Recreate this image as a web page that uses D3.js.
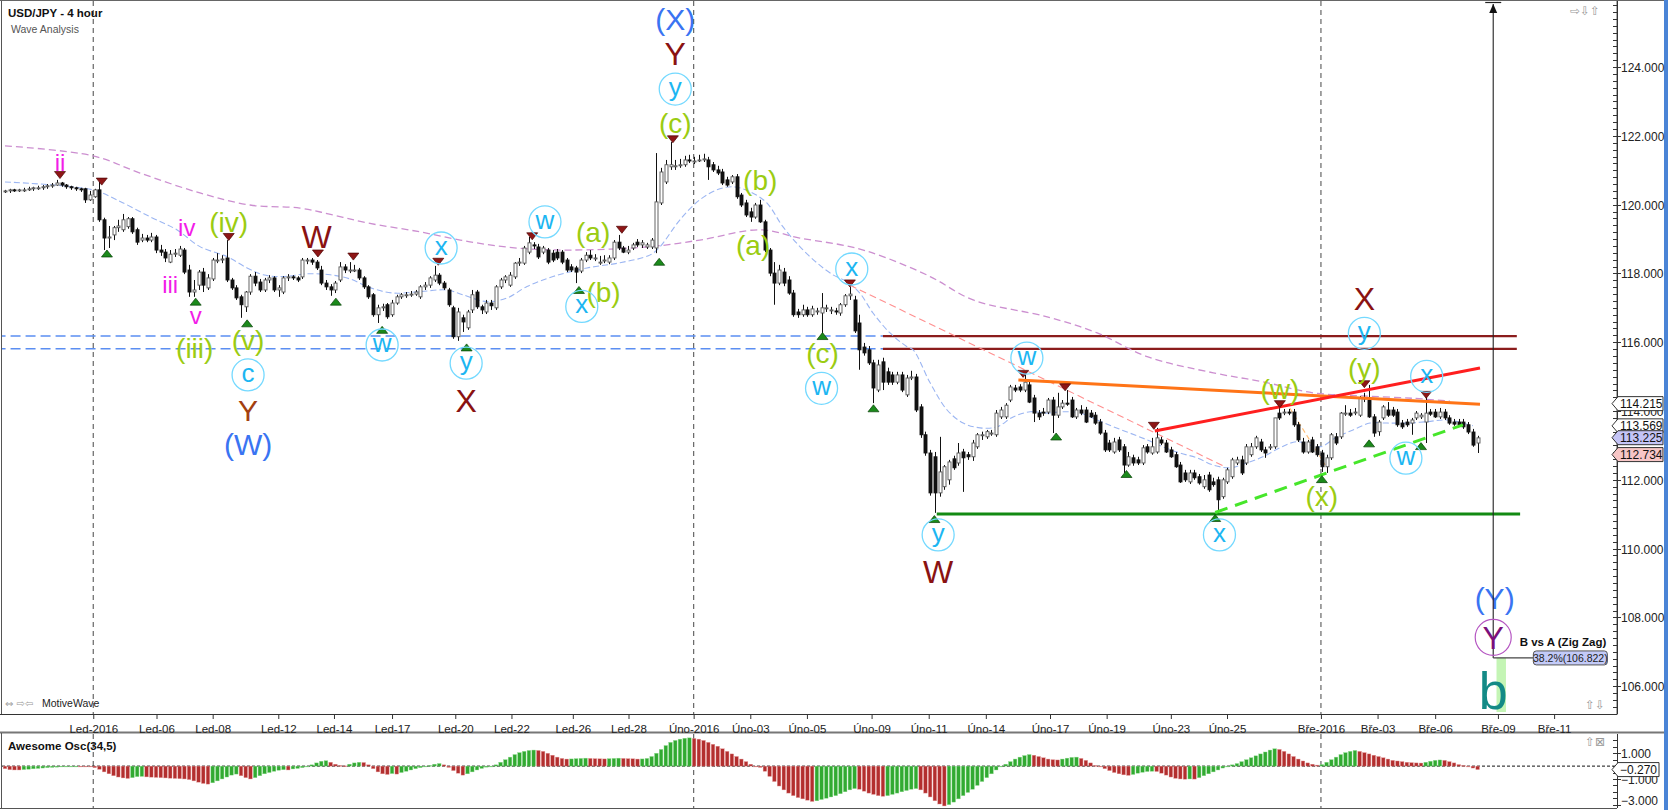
<!DOCTYPE html>
<html><head><meta charset="utf-8"><title>USD/JPY - 4 hour</title>
<script src="https://cdn.jsdelivr.net/npm/d3@7/dist/d3.min.js"></script>
<style>html,body{margin:0;padding:0;background:#fff;overflow:hidden}svg{display:block}text{font-family:"Liberation Sans",Arial,sans-serif}</style>
</head><body>
<svg id="chart" width="1668" height="810"></svg>
<script>
// ---------- DATA ----------
// 4-hour candles [open, high, low, close]
const candles = [
[120.40,120.43,120.34,120.40],[120.40,120.46,120.34,120.43],[120.43,120.46,120.37,120.40],[120.40,120.46,120.37,120.43],[120.43,120.49,120.37,120.43],
[120.43,120.52,120.40,120.46],[120.46,120.52,120.40,120.49],[120.49,120.55,120.43,120.49],[120.49,120.57,120.43,120.52],[120.52,120.60,120.46,120.55],
[120.55,120.63,120.49,120.57],[120.57,120.72,120.55,120.63],[120.63,120.66,120.52,120.57],[120.57,120.60,120.46,120.52],[120.52,120.55,120.43,120.49],
[120.49,120.52,120.40,120.46],[120.46,120.49,120.37,120.43],[120.46,120.49,120.05,120.14],[120.14,120.40,120.11,120.28],[120.23,120.46,120.20,120.43],
[120.43,120.66,119.50,119.56],[119.56,119.62,118.68,119.03],[119.03,119.38,118.74,119.06],[119.12,119.38,118.97,119.33],[119.33,119.56,119.21,119.38],
[119.27,119.73,119.21,119.56],[119.36,119.64,119.30,119.59],[119.59,119.64,119.15,119.21],[119.27,119.33,118.83,118.91],[118.97,119.15,118.91,119.03],
[119.03,119.12,118.91,118.97],[118.97,119.18,118.91,119.06],[119.06,119.12,118.59,118.68],[118.68,118.83,118.51,118.62],[118.62,118.71,118.33,118.45],
[118.33,118.68,118.30,118.56],[118.56,118.71,118.48,118.59],[118.53,118.80,118.48,118.71],[118.68,118.74,117.98,118.04],[118.10,118.25,117.32,117.46],
[117.46,117.81,117.32,117.52],[117.66,118.10,117.52,118.04],[118.04,118.16,117.46,117.66],[117.58,117.98,117.52,117.87],[117.84,118.45,117.78,118.39],
[118.39,118.59,118.30,118.39],[118.39,118.53,118.30,118.42],[118.45,118.97,117.75,117.81],[117.81,117.87,117.52,117.58],[117.58,117.66,117.23,117.29],
[117.32,117.38,116.71,117.09],[117.03,117.49,116.88,117.46],[117.46,117.98,117.38,117.92],[117.92,118.04,117.63,117.72],[117.75,117.84,117.46,117.52],
[117.52,117.87,117.46,117.81],[117.81,117.95,117.72,117.87],[117.87,117.92,117.46,117.52],[117.52,117.66,117.32,117.58],[117.46,117.92,117.40,117.87],
[117.87,117.98,117.78,117.90],[117.90,117.95,117.81,117.87],[117.87,117.92,117.75,117.81],[117.90,118.45,117.84,118.39],[118.39,118.45,118.27,118.39],
[118.39,118.45,118.25,118.33],[118.33,118.39,118.10,118.16],[118.10,118.22,117.66,117.72],[117.72,117.81,117.52,117.61],[117.61,117.69,117.35,117.52],
[117.52,117.78,117.43,117.72],[117.81,118.33,117.75,118.19],[118.19,118.27,118.01,118.10],[118.10,118.33,118.01,118.10],[118.10,118.25,118.04,118.10],
[118.10,118.16,117.81,117.87],[117.87,117.92,117.55,117.61],[117.61,117.66,117.26,117.32],[117.38,117.43,116.74,116.80],[116.80,117.09,116.56,117.00],
[117.00,117.12,116.91,117.03],[117.09,117.14,116.68,116.74],[116.80,117.23,116.74,117.14],[117.14,117.38,117.09,117.32],[117.32,117.43,117.26,117.38],
[117.38,117.46,117.29,117.38],[117.38,117.49,117.32,117.40],[117.40,117.52,117.35,117.46],[117.32,117.66,117.26,117.61],[117.61,117.75,117.52,117.66],
[117.66,117.92,117.58,117.87],[117.81,118.22,117.75,117.95],[117.95,118.01,117.66,117.72],[117.72,117.78,117.52,117.58],[117.52,117.58,117.03,117.09],
[117.00,117.06,116.10,116.16],[116.16,117.00,116.04,116.88],[116.71,116.80,116.30,116.59],[116.42,116.94,116.36,116.88],[116.94,117.52,116.85,117.38],
[117.46,117.52,116.97,117.03],[117.03,117.09,116.82,116.94],[116.88,117.23,116.82,117.14],[117.14,117.23,116.94,117.06],[117.00,117.66,116.94,117.61],
[117.61,117.87,117.55,117.81],[117.81,117.95,117.72,117.90],[117.66,118.04,117.61,117.95],[117.90,118.33,117.84,118.30],[118.30,118.45,118.22,118.33],
[118.30,118.80,118.25,118.74],[118.62,119.06,118.56,118.89],[118.83,118.91,118.71,118.80],[118.77,118.86,118.42,118.48],[118.62,118.80,118.56,118.74],
[118.68,118.74,118.27,118.33],[118.59,118.68,118.33,118.39],[118.62,118.71,118.39,118.45],[118.62,118.68,118.27,118.33],[118.39,118.45,118.04,118.10],
[118.19,118.27,118.04,118.10],[118.16,118.22,117.72,118.04],[118.07,118.45,118.01,118.39],[118.39,118.62,118.33,118.53],[118.53,118.68,118.39,118.45],
[118.45,118.56,118.36,118.45],[118.33,118.51,118.25,118.33],[118.39,118.53,118.30,118.39],[118.33,118.53,118.27,118.45],[118.45,118.97,118.39,118.91],
[118.91,119.12,118.68,118.74],[118.74,118.80,118.59,118.62],[118.62,118.80,118.56,118.68],[118.74,118.89,118.68,118.83],[118.91,119.00,118.77,118.83],
[118.83,118.97,118.74,118.89],[118.77,118.89,118.71,118.83],[118.77,119.03,118.71,118.97],[118.74,121.50,118.59,120.08],[120.05,121.07,119.99,120.95],
[120.66,121.30,120.60,121.16],[121.10,121.82,121.01,121.16],[121.10,121.30,121.01,121.13],[121.13,121.33,121.07,121.16],[121.16,121.42,121.10,121.30],
[121.30,121.45,121.21,121.27],[121.24,121.39,121.18,121.27],[121.30,121.45,121.24,121.30],[121.30,121.48,121.24,121.33],[121.30,121.39,120.72,121.10],
[121.16,121.24,120.95,121.01],[121.01,121.13,120.86,120.92],[120.95,121.04,120.57,120.63],[120.72,120.81,120.52,120.57],[120.66,120.86,120.60,120.81],
[120.81,120.89,120.17,120.23],[120.28,120.34,119.93,119.99],[120.05,120.14,119.64,119.70],[119.79,119.91,119.50,119.64],[119.64,120.05,119.59,119.99],
[119.99,120.14,119.47,119.50],[119.50,119.56,118.62,118.68],[118.68,118.74,117.92,118.01],[118.01,118.33,117.09,117.72],[117.72,118.25,117.66,118.10],
[118.04,118.16,117.63,117.72],[117.81,117.92,117.38,117.43],[117.43,117.52,116.74,116.80],[116.88,116.97,116.71,116.80],[116.80,117.09,116.74,116.94],
[116.94,117.03,116.74,116.80],[116.80,117.06,116.74,116.97],[116.91,117.00,116.80,116.91],[116.85,117.43,116.22,117.00],[117.00,117.09,116.88,117.00],
[116.94,117.03,116.82,116.94],[116.91,117.00,116.80,116.88],[116.85,117.14,116.77,117.09],[117.09,117.40,117.03,117.35],[117.35,117.61,117.23,117.40],
[117.23,117.35,116.27,116.33],[116.56,116.80,115.20,115.78],[115.86,115.98,115.61,115.69],[115.78,115.89,115.34,115.40],[115.40,115.49,114.23,114.67],
[114.61,115.49,114.55,115.34],[115.43,115.55,114.61,114.84],[115.14,115.26,114.76,114.84],[115.05,115.14,114.76,114.84],[114.84,115.14,114.78,115.05],
[115.05,115.14,114.55,114.61],[114.47,115.05,114.41,114.96],[114.96,115.17,114.90,114.99],[114.99,115.08,113.97,114.03],[114.12,114.20,113.22,113.31],
[113.31,113.40,112.70,112.78],[112.78,112.87,111.54,111.62],[112.67,112.81,111.04,111.62],[111.62,113.25,111.51,112.23],[111.80,112.43,111.71,112.38],
[112.00,112.58,111.86,112.52],[112.61,112.70,112.29,112.35],[112.49,113.07,112.41,112.78],[112.81,112.90,111.65,112.64],[112.73,112.81,112.58,112.67],
[112.67,113.16,112.55,113.07],[112.96,113.36,112.90,113.31],[113.31,113.40,113.16,113.31],[113.25,113.45,113.19,113.40],[113.36,113.45,113.28,113.36],
[113.31,114.03,113.25,113.94],[113.83,114.12,113.77,114.03],[113.83,114.23,113.77,114.17],[114.32,114.76,114.26,114.70],[114.67,114.76,114.55,114.61],
[114.70,114.78,114.55,114.61],[114.61,115.05,114.55,114.84],[114.76,114.90,114.23,114.26],[114.38,114.47,113.68,113.94],[113.94,114.03,113.74,113.83],
[113.97,114.09,113.86,113.94],[113.97,114.38,113.91,114.32],[114.32,114.41,113.36,113.88],[113.88,114.53,113.80,114.12],[114.12,114.32,114.06,114.23],
[114.23,114.61,114.15,114.20],[114.32,114.41,113.80,113.83],[113.83,114.09,113.77,114.03],[114.03,114.17,113.88,113.94],[114.03,114.12,113.65,113.68],
[113.94,114.03,113.80,113.83],[113.88,113.97,113.60,113.65],[113.68,113.77,113.31,113.36],[113.36,113.45,112.81,112.87],[113.07,113.16,112.81,112.87],
[112.81,113.22,112.76,113.10],[113.16,113.25,112.81,112.87],[112.96,113.04,112.20,112.43],[112.43,112.81,112.38,112.67],[112.64,112.73,112.41,112.49],
[112.58,112.67,112.43,112.49],[112.49,113.01,112.43,112.93],[112.96,113.04,112.76,112.81],[112.78,113.22,112.73,112.96],[112.81,113.51,112.76,113.22],
[113.16,113.25,113.01,113.07],[113.07,113.16,112.78,112.81],[112.87,112.96,112.64,112.67],[112.73,112.81,112.35,112.38],[112.43,112.52,111.91,111.94],
[112.20,112.29,111.94,112.00],[111.94,112.29,111.88,112.20],[112.20,112.29,112.00,112.06],[112.09,112.17,111.86,111.91],[111.80,112.14,111.74,112.00],
[112.14,112.23,111.65,111.71],[111.94,112.06,111.80,111.86],[112.00,112.09,111.04,111.42],[111.51,112.06,111.45,112.00],[111.94,112.35,111.88,112.29],
[112.09,112.64,112.03,112.58],[112.49,112.67,112.43,112.58],[112.58,112.70,112.14,112.20],[112.49,113.04,112.43,112.96],[112.73,113.07,112.67,112.96],
[112.96,113.28,112.90,113.22],[113.10,113.19,112.81,112.87],[112.87,112.96,112.64,112.78],[112.93,113.04,112.87,112.96],[112.96,113.80,112.90,113.80],
[113.94,114.17,113.74,113.80],[113.97,114.06,113.88,113.97],[113.97,114.06,113.88,113.94],[113.97,114.06,113.54,113.60],[113.60,113.68,113.10,113.16],
[113.10,113.22,112.76,112.81],[112.81,113.16,112.76,113.10],[113.16,113.25,112.78,112.81],[112.96,113.04,112.67,112.73],[112.78,112.87,112.23,112.38],
[112.38,112.73,112.20,112.64],[112.64,113.36,112.58,113.31],[113.25,113.36,113.01,113.07],[113.25,113.97,113.19,113.94],[113.94,114.17,113.86,113.94],
[113.94,114.06,113.83,113.88],[113.97,114.09,113.88,113.97],[113.88,114.44,113.83,114.38],[114.38,114.53,114.26,114.38],[114.32,114.76,113.80,113.83],
[113.83,113.91,113.25,113.36],[113.40,113.74,113.28,113.68],[113.80,114.17,113.74,114.12],[114.03,114.26,113.83,113.88],[114.03,114.12,113.83,113.88],
[113.97,114.06,113.54,113.60],[113.65,113.74,113.48,113.54],[113.68,113.77,113.54,113.60],[113.65,113.80,113.31,113.74],[113.80,114.00,113.74,113.94],
[113.83,113.94,113.77,113.88],[113.68,114.47,113.07,113.94],[113.97,114.06,113.86,113.91],[113.97,114.06,113.80,113.83],[113.83,114.09,113.77,113.97],
[113.97,114.06,113.74,113.80],[113.80,113.88,113.60,113.65],[113.68,113.77,113.57,113.62],[113.68,113.77,113.54,113.60],[113.68,113.77,113.48,113.54],
[113.60,113.68,113.33,113.39],[113.39,113.48,112.96,113.01],[113.07,113.28,112.78,113.22]
];

// Awesome Oscillator (34,5), one value per candle
const aoValues = [
-0.2,-0.28,-0.3,-0.3,-0.27,-0.24,-0.21,-0.18,-0.15,-0.12,
-0.1,-0.08,-0.06,-0.05,-0.04,-0.03,-0.03,-0.04,-0.05,-0.12,
-0.25,-0.45,-0.6,-0.75,-0.85,-0.92,-0.96,-0.9,-0.82,-0.8,
-0.84,-0.86,-0.88,-0.9,-0.92,-0.94,-0.96,-0.98,-1.0,-1.05,
-1.15,-1.25,-1.35,-1.4,-1.3,-1.15,-1.0,-0.85,-0.7,-0.62,
-0.75,-0.9,-1.0,-0.9,-0.75,-0.6,-0.5,-0.4,-0.32,-0.28,
-0.3,-0.22,-0.18,-0.12,-0.05,0.1,0.25,0.38,0.42,0.3,
0.15,0.05,0.02,0.15,0.25,0.3,0.28,0.1,-0.2,-0.45,
-0.6,-0.65,-0.58,-0.62,-0.5,-0.4,-0.3,-0.2,-0.12,-0.05,
0.05,0.15,0.2,0.1,-0.1,-0.35,-0.55,-0.7,-0.6,-0.45,
-0.3,-0.18,-0.08,0.0,0.1,0.3,0.5,0.7,0.9,1.05,
1.15,1.22,1.25,1.22,1.15,1.0,0.85,0.7,0.6,0.55,
0.56,0.58,0.6,0.62,0.6,0.58,0.57,0.56,0.58,0.6,
0.62,0.6,0.58,0.57,0.55,0.56,0.6,0.75,1.0,1.3,
1.6,1.85,2.0,2.1,2.17,2.2,2.15,2.1,2.0,1.85,
1.7,1.55,1.35,1.15,0.95,0.75,0.55,0.35,0.15,0.0,
-0.1,-0.4,-0.8,-1.2,-1.55,-1.85,-2.1,-2.3,-2.45,-2.55,
-2.65,-2.75,-2.7,-2.6,-2.5,-2.4,-2.3,-2.15,-2.0,-1.85,
-1.75,-1.8,-1.95,-2.1,-2.2,-2.3,-2.35,-2.3,-2.2,-2.1,
-2.0,-1.9,-1.8,-1.75,-1.85,-2.1,-2.4,-2.7,-2.95,-3.1,
-3.0,-2.8,-2.55,-2.3,-2.05,-1.8,-1.5,-1.2,-0.9,-0.6,
-0.3,-0.05,0.15,0.35,0.55,0.7,0.82,0.9,0.85,0.75,
0.65,0.55,0.5,0.48,0.55,0.62,0.68,0.7,0.6,0.45,
0.25,0.05,-0.05,-0.2,-0.35,-0.5,-0.6,-0.68,-0.72,-0.65,
-0.55,-0.48,-0.42,-0.4,-0.42,-0.55,-0.7,-0.85,-0.95,-1.0,
-1.02,-1.0,-1.01,-0.9,-0.75,-0.6,-0.45,-0.3,-0.15,0.0,
0.1,0.2,0.35,0.5,0.65,0.8,0.95,1.1,1.25,1.35,
1.3,1.15,0.95,0.75,0.55,0.4,0.25,0.15,0.08,0.12,
0.3,0.5,0.7,0.9,1.05,1.15,1.22,1.15,1.05,0.95,
0.85,0.75,0.65,0.55,0.45,0.4,0.35,0.3,0.27,0.25,
0.24,0.3,0.38,0.45,0.48,0.45,0.35,0.25,0.12,0.05,
-0.05,-0.15,-0.27
];

// moving averages traced as [candle index, price]
const fastMA = [[0,120.66],[18.6,120.43],[23.7,120.14],[30.7,119.65],[36.4,119.27],[41.3,118.78],[47,118.49],[51.3,118.16],[54.7,117.96],[58.9,117.91],[64,117.99],[68.9,117.96],[73.1,117.84],[77.5,117.58],[82.2,117.43],[87.9,117.47],[93.6,117.52],[97,117.38],[102.1,117.18],[106.4,117.29],[110.6,117.62],[116.1,117.91],[123.3,118.16],[130.3,118.31],[136.7,118.54],[138.8,118.78],[143,119.56],[147.2,120.14],[150.8,120.43],[154.2,120.52],[157.8,120.38],[161.4,120.05],[164.8,119.36],[168.4,118.78],[172,118.31],[175.4,117.96],[178.4,117.76],[181.1,117.43],[183.9,116.85],[187.5,116.27],[191.1,115.87],[192.4,115.78],[196,114.82],[199.6,114.03],[203,113.65],[206.6,113.51],[210.2,113.54],[213.6,113.83],[217.2,113.98],[220.8,113.94],[224.2,113.98],[227.8,113.94],[231.4,113.74],[234.7,113.55],[238.3,113.36],[242,113.16],[245.3,112.96],[248.9,112.78],[252.5,112.64],[256,112.43],[259.5,112.35],[263.1,112.49],[266.5,112.67],[270.1,112.93],[273.7,113.11],[278.6,112.96],[282.2,113.25],[285.6,113.45],[289.2,113.65],[292.8,113.65],[297.1,113.65],[301.3,113.69],[305.5,113.74],[311,113.57]];
const slowMA = [[0,121.71],[18.6,121.42],[28.6,120.92],[41.3,120.34],[51.9,119.99],[62.5,119.90],[69.5,119.70],[76.7,119.47],[87.9,119.21],[98.5,118.92],[109.1,118.73],[119.7,118.68],[136.7,118.78],[147.2,118.97],[160,119.27],[168.4,119.03],[179,118.78],[186,118.49],[196,117.91],[205.1,117.23],[220.8,116.74],[231.4,116.27],[242,115.58],[256,115.11],[266.5,114.85],[277.1,114.53],[287.7,114.44],[298.3,114.37],[306.1,114.29]];

// time axis
const tickIdx = [18.7,32.1,44.0,57.9,69.7,82.0,95.4,107.3,120.3,132.1,145.9,157.9,169.9,183.6,195.7,207.8,221.4,233.4,247.0,258.9,278.8,290.8,303.0,316.3,328.2];
const tickLabels = ["Led-2016","Led-06","Led-08","Led-12","Led-14","Led-17","Led-20","Led-22","Led-26","Led-28","Úno-2016","Úno-03","Úno-05","Úno-09","Úno-11","Úno-14","Úno-17","Úno-19","Úno-23","Úno-25","Bře-2016","Bře-03","Bře-06","Bře-09","Bře-11"];
const priceTicks = [106,108,110,112,114,116,118,120,122,124];
const aoTicks = [1,-1,-3];

// wave labels [text, candle index, price, kind]
const waveLabels = [
["ii",11.65,121.21,"mag"],["iv",38.5,119.32,"mag"],["iii",35,117.66,"mag"],["v",40.4,116.75,"mag"],
["(iv)",47.4,119.46,"lime"],["(iii)",40.2,115.78,"lime"],["(v)",51.5,116.02,"lime"],
["W",66,119.07,"red"],["c",51.5,115.05,"circ"],["Y",51.5,114.03,"brown"],["(W)",51.5,113.01,"blue"],
["w",79.9,115.92,"circ"],["x",92.4,118.74,"circ"],["y",97.7,115.39,"circ"],["X",97.7,114.32,"red"],
["w",114.4,119.50,"circ"],["(a)",124.6,119.17,"lime"],["(b)",126.8,117.42,"lime"],["x",122.2,117.04,"circ"],
["(c)",142,122.32,"lime"],["y",142,123.36,"circ"],["Y",142,124.40,"red"],["(X)",142,125.37,"blue"],
["(b)",160,120.67,"lime"],["(a)",158.5,118.78,"lime"],["x",179.4,118.13,"circ"],["(c)",173.2,115.63,"lime"],["w",173,114.66,"circ"],
["y",197.7,110.40,"circ"],["W",197.7,109.33,"red"],["w",216.5,115.54,"circ"],["x",257.3,110.40,"circ"],
["(w)",270.1,114.58,"lime"],["(x)",279,111.47,"lime"],["X",288,117.28,"red"],["y",288,116.26,"circ"],["(y)",288,115.20,"lime"],
["x",301.2,115.01,"circ"],["w",296.8,112.63,"circ"],["(Y)",315.6,108.54,"blue"]
];
// swing markers [candle index, price]
const highMarks = [[11.65,120.86],[20.5,120.67],[47.4,119.06],[66.3,118.58],[73.8,118.49],[91.8,118.34],[111.7,119.08],[130.7,119.27],[141.5,121.90],[179,117.71],[215.7,115.08],[224.6,114.69],[243.4,113.57],[270.1,114.20],[288,114.78],[301.1,114.47]];
const lowMarks = [[21.6,118.58],[40.4,117.18],[51.3,116.55],[70.1,117.18],[79.9,116.36],[97.8,115.85],[121.6,117.52],[138.6,118.34],[173.2,116.18],[184,114.08],[196.9,110.86],[222.7,113.26],[237.6,112.17],[256.4,110.89],[279,112.02],[289,113.06],[300,112.98]];

// drawn levels / trendlines
const zoneLevels = [116.18, 115.81];
const zoneSplitIdx = 186, zoneEndIdx = 320.3;
const supportLevel = 111.01, supportFrom = 197.4, supportTo = 321;
const redTrend = [[243.6,113.42],[312.5,115.25]];
const orangeTrend = [[214.7,114.90],[312.5,114.20]];
const greenTrend = [[256.4,111.05],[308.9,113.60]];
const pinkTrend = [[179,117.66],[258.5,112.38]];
const lightOrangeTrend = [[272.2,114.09],[279.7,112.43]];
// projection
const projIdx = 315.3, projLabelIdx = 323.8, projLevel = 106.822, projPct = "38.2%";
const projBar = [316.0, 318.0];
const yCircle = [315.3, 107.42];
const bLabel = [315.3, 105.89];
// right-side value labels
const rightValues = [114.215, 113.569, 113.225, 112.734];

// ---------- DRAW ----------
const svg = d3.select("#chart");
const PR = 1617, PT = 1, PB = 714;
const x = d3.scaleLinear().domain([0, 1]).range([5, 9.72]);
const y = d3.scaleLinear().domain([105.25, 125.95]).range([712, 0]);
const yo = d3.scaleLinear().domain([-3.26, 2.5]).range([808, 734]);

svg.append("rect").attr("width", 1668).attr("height", 810).attr("fill", "#fff");
const defs = svg.append("defs");
defs.append("clipPath").attr("id", "pc").append("rect").attr("x", 2).attr("y", PT).attr("width", PR - 2).attr("height", PB - PT);
defs.append("clipPath").attr("id", "oc").append("rect").attr("x", 2).attr("y", 734).attr("width", PR - 2).attr("height", 74);

// month separators
tickIdx.forEach((t, k) => {
  if (!tickLabels[k].endsWith("2016")) return;
  [[PT, PB], [734, 808]].forEach(([a, b]) => svg.append("line").attr("x1", x(t)).attr("x2", x(t)).attr("y1", a).attr("y2", b)
    .attr("stroke", "#666").attr("stroke-width", 1.2).attr("stroke-dasharray", "5,4"));
});

const g = svg.append("g").attr("clip-path", "url(#pc)");
const line = d3.line().x(d => x(d[0])).y(d => y(d[1]));

// zone levels
zoneLevels.forEach(v => {
  g.append("line").attr("x1", x(-2)).attr("x2", x(zoneSplitIdx)).attr("y1", y(v)).attr("y2", y(v))
    .attr("stroke", "#5b8ef2").attr("stroke-width", 1.5).attr("stroke-dasharray", "10,5");
  g.append("line").attr("x1", x(zoneSplitIdx)).attr("x2", x(zoneEndIdx)).attr("y1", y(v)).attr("y2", y(v))
    .attr("stroke", "#8b1c1c").attr("stroke-width", 2.2);
});

// moving averages
g.append("path").attr("d", line.curve(d3.curveCatmullRom)(slowMA)).attr("fill", "none").attr("stroke", "#cc8fd0").attr("stroke-width", 1.3).attr("stroke-dasharray", "7,4");
g.append("path").attr("d", line.curve(d3.curveCatmullRom)(fastMA)).attr("fill", "none").attr("stroke", "#9cb6f2").attr("stroke-width", 1.1).attr("stroke-dasharray", "6,3");
line.curve(d3.curveLinear);
g.append("path").attr("d", line(pinkTrend)).attr("stroke", "#ff8f8f").attr("stroke-width", 1.1).attr("stroke-dasharray", "7,4").attr("fill", "none");
g.append("path").attr("d", line(lightOrangeTrend)).attr("stroke", "#ffbf7a").attr("stroke-width", 1.1).attr("stroke-dasharray", "5,3").attr("fill", "none");

// candles
const cg = g.append("g");
candles.forEach((d, i) => {
  const [o, h, l, c] = d;
  const cx = Math.round(x(i)) + 0.5;
  const hi = Math.max(h, o, c), lo = Math.min(l, o, c);
  cg.append("line").attr("x1", cx).attr("x2", cx).attr("y1", y(hi)).attr("y2", y(lo)).attr("stroke", "#111").attr("stroke-width", 1);
  const top = y(Math.max(o, c)), bot = y(Math.min(o, c));
  const up = c >= o;
  cg.append("rect").attr("x", cx - 1.5).attr("width", 3).attr("y", top).attr("height", Math.max(1, bot - top))
    .attr("fill", up ? "#ffffff" : "#111").attr("stroke", up ? "#555" : "#111").attr("stroke-width", 0.9);
});

// trendlines
g.append("line").attr("x1", x(supportFrom)).attr("x2", x(supportTo)).attr("y1", y(supportLevel)).attr("y2", y(supportLevel)).attr("stroke", "#138a13").attr("stroke-width", 3);
g.append("path").attr("d", line(orangeTrend)).attr("stroke", "#ff7417").attr("stroke-width", 3).attr("fill", "none");
g.append("path").attr("d", line(redTrend)).attr("stroke", "#ff1f1f").attr("stroke-width", 3).attr("fill", "none");
g.append("path").attr("d", line(greenTrend)).attr("stroke", "#46e62a").attr("stroke-width", 3).attr("stroke-dasharray", "13,8").attr("fill", "none");

// swing markers
highMarks.forEach(([i, p]) => {
  const cx = x(i), cy = y(p);
  g.append("path").attr("d", `M${cx - 5.5},${cy - 3.5}L${cx + 5.5},${cy - 3.5}L${cx},${cy + 3.5}Z`).attr("fill", "#8e1616").attr("stroke", "#4a0000").attr("stroke-width", 0.7);
});
lowMarks.forEach(([i, p]) => {
  const cx = x(i), cy = y(p);
  g.append("path").attr("d", `M${cx - 5.5},${cy + 3.5}L${cx + 5.5},${cy + 3.5}L${cx},${cy - 3.5}Z`).attr("fill", "#1b8a1b").attr("stroke", "#064006").attr("stroke-width", 0.7);
});

// wave labels
const st = { mag: ["#f21de8", 24, "0.32em"], lime: ["#9bcc12", 28, "0.3em"], red: ["#8a1212", 32, "0.36em"], brown: ["#a3400f", 30, "0.36em"], blue: ["#3a74f2", 30, "0.33em"], circ: ["#1cb6f2", 26, "0.26em"] };
waveLabels.forEach(([t, i, p, k]) => {
  const [col, size, dy] = st[k];
  if (k === "circ") g.append("circle").attr("cx", x(i)).attr("cy", y(p)).attr("r", 16).attr("fill", "none").attr("stroke", "#74d9ff").attr("stroke-width", 1.3);
  g.append("text").attr("x", x(i)).attr("y", y(p)).attr("dy", dy).attr("text-anchor", "middle").attr("font-size", size).attr("fill", col).text(t);
});

// projection (B vs A)
const px = x(projIdx);
g.append("rect").attr("x", x(projBar[0])).attr("width", x(projBar[1]) - x(projBar[0])).attr("y", y(projLevel)).attr("height", 712 - y(projLevel)).attr("fill", "#c4f5b5");
g.append("text").attr("x", x(bLabel[0])).attr("y", y(bLabel[1])).attr("dy", "0.36em").attr("text-anchor", "middle").attr("font-size", 52).attr("fill", "#138a86").text("b");
g.append("line").attr("x1", px).attr("x2", px).attr("y1", 4).attr("y2", y(projLevel)).attr("stroke", "#222").attr("stroke-width", 1.1);
g.append("line").attr("x1", px - 8).attr("x2", px + 8).attr("y1", 2.5).attr("y2", 2.5).attr("stroke", "#222").attr("stroke-width", 1.2);
g.append("path").attr("d", `M${px - 4},${13}L${px + 4},${13}L${px},${4}Z`).attr("fill", "#111");
g.append("line").attr("x1", px).attr("x2", x(projLabelIdx)).attr("y1", y(projLevel)).attr("y2", y(projLevel)).attr("stroke", "#444").attr("stroke-width", 1.2);
g.append("circle").attr("cx", x(yCircle[0])).attr("cy", y(yCircle[1])).attr("r", 18).attr("fill", "none").attr("stroke", "#b556c2").attr("stroke-width", 1.2);
g.append("text").attr("x", x(yCircle[0])).attr("y", y(yCircle[1])).attr("dy", "0.36em").attr("text-anchor", "middle").attr("font-size", 32).attr("fill", "#7b0f7b").text("Y");
const bx = x(projLabelIdx), by = y(projLevel);
g.append("rect").attr("x", bx).attr("y", by - 7).attr("width", 74).attr("height", 14).attr("rx", 3).attr("fill", "#c3caf8").attr("stroke", "#555");
g.append("text").attr("x", bx + 37).attr("y", by).attr("dy", "0.35em").attr("text-anchor", "middle").attr("font-size", 10.5).attr("fill", "#222").text(`${projPct}(${d3.format(".3f")(projLevel)})`);
g.append("text").attr("x", bx + 73).attr("y", by - 12).attr("text-anchor", "end").attr("font-size", 11.5).attr("font-weight", "bold").attr("fill", "#111").text("B vs A (Zig Zag)");

// titles
svg.append("text").attr("x", 8).attr("y", 17).attr("font-size", 11.5).attr("font-weight", "bold").attr("fill", "#111").text("USD/JPY - 4 hour");
svg.append("text").attr("x", 11).attr("y", 33).attr("font-size", 10.5).attr("fill", "#555").text("Wave Analysis");
svg.append("text").attr("x", 5).attr("y", 707).attr("font-size", 10).attr("fill", "#999").style("font-family", "DejaVu Sans").text("⇔ ⇨⇦");
svg.append("text").attr("x", 42).attr("y", 707).attr("font-size", 10.5).attr("fill", "#222").text("MotiveWave");
svg.append("text").attr("x", 1570).attr("y", 15).attr("font-size", 12).attr("fill", "#999").style("font-family", "DejaVu Sans").text("⇨⇩⇧");
svg.append("text").attr("x", 1585).attr("y", 709).attr("font-size", 12).attr("fill", "#999").style("font-family", "DejaVu Sans").text("⇧⇩");
svg.append("text").attr("x", 1585).attr("y", 746).attr("font-size", 12).attr("fill", "#999").style("font-family", "DejaVu Sans").text("⇧⊠");

// frames
svg.append("rect").attr("x", 1.5).attr("y", 0.5).attr("width", PR - 1.5).attr("height", PB).attr("fill", "none").attr("stroke", "#555");
svg.append("line").attr("x1", 0).attr("x2", 1668).attr("y1", 0.5).attr("y2", 0.5).attr("stroke", "#666");
svg.append("line").attr("x1", 0).attr("x2", 1668).attr("y1", 732.5).attr("y2", 732.5).attr("stroke", "#777").attr("stroke-width", 2);
svg.append("line").attr("x1", 1.5).attr("x2", 1.5).attr("y1", 733).attr("y2", 808).attr("stroke", "#555");
svg.append("line").attr("x1", 0).attr("x2", PR).attr("y1", 808.5).attr("y2", 808.5).attr("stroke", "#555");
svg.append("rect").attr("x", 1664).attr("y", 0).attr("width", 4).attr("height", 810).attr("fill", "#4a84d6");

// price axis
const ax = svg.append("g");
ax.append("line").attr("x1", PR + 0.5).attr("x2", PR + 0.5).attr("y1", PT).attr("y2", PB).attr("stroke", "#333");
y.ticks(100).forEach(v => {
  const yy = Math.round(y(v)) + 0.5;
  if (yy < 3 || yy > 711) return;
  ax.append("line").attr("x1", PR - 4).attr("x2", PR).attr("y1", yy).attr("y2", yy).attr("stroke", "#333");
});
priceTicks.forEach(v => {
  const yy = Math.round(y(v)) + 0.5;
  ax.append("line").attr("x1", PR - 4).attr("x2", PR + 4).attr("y1", yy).attr("y2", yy).attr("stroke", "#333");
  ax.append("text").attr("x", PR + 4).attr("y", yy).attr("dy", "0.35em").attr("font-size", 12).attr("fill", "#222").text(d3.format(".3f")(v));
});
const rightFills = ["#ffffff", "#ffffff", "#c4c4f6", "#f7c6c6"];
rightValues.forEach((v, k) => {
  const yy = y(v);
  ax.append("path").attr("d", `M${PR - 5},${yy}L${PR + 1},${yy - 7}L1663,${yy - 7}L1663,${yy + 7}L${PR + 1},${yy + 7}Z`).attr("fill", rightFills[k]).attr("stroke", "#333");
  ax.append("text").attr("x", PR + 3).attr("y", yy).attr("dy", "0.36em").attr("font-size", 12).attr("fill", "#111").text(d3.format(".3f")(v));
});

// time axis
const xa = svg.append("g").attr("transform", `translate(0,${PB})`)
  .call(d3.axisBottom(x).tickValues(tickIdx).tickFormat((d, k) => tickLabels[k]).tickSize(5).tickSizeOuter(0));
xa.select(".domain").remove();
xa.selectAll("line").attr("stroke", "#333");
xa.selectAll("text").attr("font-size", 11.5).attr("fill", "#222").attr("dy", "0.95em").style("font-family", "Liberation Sans, Arial, sans-serif");
svg.append("line").attr("x1", 0).attr("x2", PR).attr("y1", PB + 0.5).attr("y2", PB + 0.5).attr("stroke", "#333");

// oscillator
const og = svg.append("g").attr("clip-path", "url(#oc)");
og.append("line").attr("x1", 2).attr("x2", PR).attr("y1", yo(0)).attr("y2", yo(0)).attr("stroke", "#111").attr("stroke-dasharray", "3,2");
aoValues.forEach((v, i) => {
  const up = i > 0 && v > aoValues[i - 1];
  og.append("rect").attr("x", x(i) - 1.8).attr("width", 3.6).attr("y", Math.min(yo(0), yo(v))).attr("height", Math.max(0.8, Math.abs(yo(v) - yo(0))))
    .attr("fill", up ? "#32aa32" : "#b32f2f").attr("stroke", up ? "#8fdc8f" : "#e59a9a").attr("stroke-width", 0.4);
});
svg.append("text").attr("x", 8).attr("y", 750).attr("font-size", 11.5).attr("font-weight", "bold").attr("fill", "#111").text("Awesome Osc(34,5)");
svg.append("line").attr("x1", PR + 0.5).attr("x2", PR + 0.5).attr("y1", 734).attr("y2", 808).attr("stroke", "#333");
yo.ticks(12).forEach(v => {
  const yy = Math.round(yo(v)) + 0.5;
  if (yy < 736 || yy > 807) return;
  svg.append("line").attr("x1", PR - 4).attr("x2", PR).attr("y1", yy).attr("y2", yy).attr("stroke", "#333");
});
aoTicks.forEach(v => {
  const yy = Math.round(yo(v)) + 0.5;
  svg.append("line").attr("x1", PR - 4).attr("x2", PR + 4).attr("y1", yy).attr("y2", yy).attr("stroke", "#333");
  svg.append("text").attr("x", PR + 4).attr("y", Math.min(yy, 801)).attr("dy", "0.35em").attr("font-size", 12).attr("fill", "#222").text(d3.format(".3f")(v));
});
const lastAo = aoValues[aoValues.length - 1], ly = yo(lastAo);
svg.append("path").attr("d", `M${PR - 5},${ly}L${PR + 1},${ly - 7}L1659,${ly - 7}L1659,${ly + 7}L${PR + 1},${ly + 7}Z`).attr("fill", "#fff").attr("stroke", "#333");
svg.append("text").attr("x", PR + 3).attr("y", ly).attr("dy", "0.36em").attr("font-size", 12).attr("fill", "#111").text(d3.format(".3f")(lastAo));
</script>
</body></html>
